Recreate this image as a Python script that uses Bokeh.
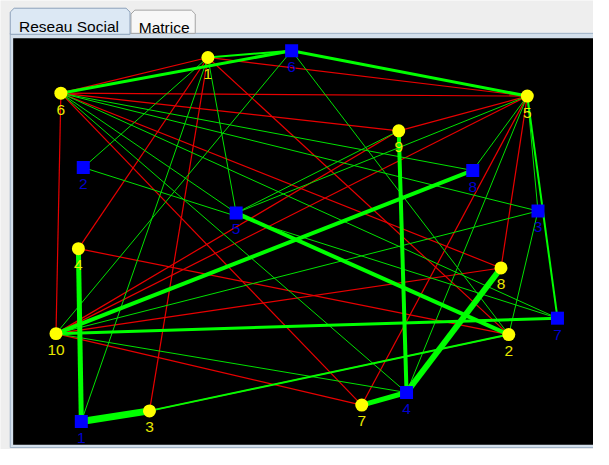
from bokeh.plotting import figure
from bokeh.models import Range1d, ColumnDataSource
from bokeh.embed import file_html
from bokeh.resources import INLINE
from bokeh.core.properties import value

# ---------------- data ----------------
tab_labels = ["Reseau Social", "Matrice"]

yellow_labels = ["1", "2", "3", "4", "5", "6", "7", "8", "9", "10"]
yellow_x = [213, 522, 153, 80, 541, 62, 371, 514, 409, 57]
yellow_y = [59, 346, 425, 257, 99, 96, 419, 277, 135, 345]

blue_labels = ["1", "2", "3", "4", "5", "6", "7", "8"]
blue_x = [83, 85, 552, 417, 242, 299, 572, 485]
blue_y = [436, 173, 218, 406, 220, 52, 329, 176]

# green ties (source, target, weight)
green_src = ["Y6", "Y1", "B6", "Y1", "Y1", "Y1", "B6", "B6", "Y5", "Y5", "Y5", "Y5",
             "Y5", "Y6", "Y6", "Y6", "Y6", "Y6", "B5", "Y9", "Y4", "B1", "Y7", "B4",
             "Y10", "Y10", "Y10", "Y10", "Y3", "B3", "B2", "Y9"]
green_dst = ["B6", "B6", "Y5", "B2", "B1", "B5", "Y10", "Y2", "B5", "B8", "B4", "B3",
             "B7", "B8", "B3", "B7", "B5", "B4", "Y2", "B4", "B1", "Y3", "B4", "Y8",
             "B8", "B7", "B3", "B4", "Y2", "Y2", "B7", "B5"]
green_w = [3, 2, 3, 1, 1, 1, 1, 1, 1, 1, 1, 1,
           2, 1, 1, 1, 1, 1, 4, 4, 5, 7, 5, 6,
           4, 3, 1, 1, 2, 1, 1, 1]

# red ties (source, target)
red_src = ["Y6", "Y6", "Y6", "Y6", "Y6", "Y6", "Y1", "Y1", "Y1", "Y1",
           "Y5", "Y5", "Y5", "Y5", "Y9", "Y10", "Y10", "Y4", "Y3"]
red_dst = ["Y1", "Y5", "Y9", "Y10", "Y8", "Y7", "Y5", "Y4", "Y3", "Y2",
           "Y9", "Y10", "Y7", "Y8", "Y10", "Y8", "Y7", "Y2", "Y2"]

# ---------------- build ----------------
pos = {}
for lab, x, y in zip(yellow_labels, yellow_x, yellow_y):
    pos["Y" + lab] = (x, y)
for lab, x, y in zip(blue_labels, blue_x, blue_y):
    pos["B" + lab] = (x, y)

W, H = 593, 449
p = figure(width=W, height=H, x_range=Range1d(0, 609), y_range=Range1d(465, 0),
           output_backend="svg", toolbar_location=None, min_border=0,
           x_axis_location=None, y_axis_location=None)
p.grid.visible = False
p.outline_line_color = None
p.background_fill_color = "#EEEEEE"
p.border_fill_color = "#EEEEEE"

# tab panel frame
p.quad(left=[10], right=[640], top=[34], bottom=[463], fill_color="#D3DFEB",
       line_color="#9DB0C6", line_width=1)
p.quad(left=[13], right=[640], top=[39], bottom=[460], fill_color="black", line_color=None)

# tabs
def tab_shape(x0, x1, y0, y1, r=4):
    xs = [x0, x0, x0 + r, x1 - r, x1, x1]
    ys = [y1, y0 + r, y0, y0, y0 + r, y1]
    return xs, ys

t1 = tab_shape(10, 133, 8, 35)
t2 = tab_shape(134, 200, 10, 34)
p.patch(t2[0], t2[1], fill_color="#F7F7F7", line_color="#A4A4A4", line_width=1)
p.patch(t1[0], t1[1], fill_color="#DCE8F4", line_color="#8CA1BA", line_width=1)
p.text(x=[19, 142], y=[27, 28], text=tab_labels, text_font=value("Liberation Sans"),
       text_font_size="15.5px", text_color="black", text_baseline="alphabetic")

# edges
def seg(src, dst):
    return dict(x0=[pos[s][0] for s in src], y0=[pos[s][1] for s in src],
                x1=[pos[d][0] for d in dst], y1=[pos[d][1] for d in dst])

rd = seg(red_src, red_dst)
rs = ColumnDataSource(rd)
p.segment("x0", "y0", "x1", "y1", source=rs, line_color="#E80000", line_width=1.2)

gd = seg(green_src, green_dst)
gd["w"] = green_w
gd["c"] = ["#00E000" if w == 1 else "#00FF00" for w in green_w]
order = sorted(range(len(green_w)), key=lambda i: green_w[i])
gd = {k: [v[i] for i in order] for k, v in gd.items()}
p.segment("x0", "y0", "x1", "y1", source=ColumnDataSource(gd), line_color="c",
          line_width="w")

# nodes
p.scatter(blue_x, blue_y, marker="square", size=13, fill_color="#0000FF", line_color=None)
p.scatter(yellow_x, yellow_y, marker="circle", size=13, fill_color="#FFFF00", line_color=None)

# labels
p.text(x=yellow_x, y=[v + 17 for v in yellow_y], text=yellow_labels,
       text_font=value("Liberation Sans"), text_font_size="15.5px", text_color="#E8E800",
       text_align="center", text_baseline="middle")
p.text(x=blue_x, y=[v + 17 for v in blue_y], text=blue_labels,
       text_font=value("Liberation Sans"), text_font_size="15.5px", text_color="#0000D0",
       text_align="center", text_baseline="middle")

open("out.html", "w").write(file_html(p, INLINE))
